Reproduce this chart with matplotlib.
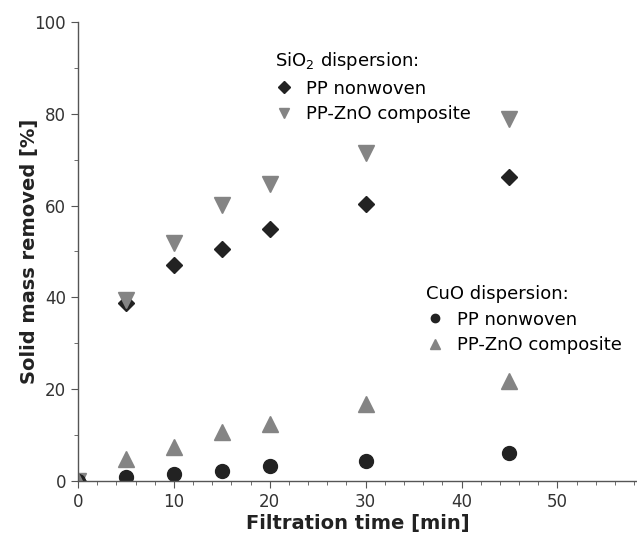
import numpy as np
import matplotlib
matplotlib.use('Agg')
import matplotlib.pyplot as plt
from matplotlib.lines import Line2D
from matplotlib.ticker import MultipleLocator

time = [0, 5, 10, 15, 20, 30, 45]
sio2_pp = [0, 38.8, 47.1, 50.5, 54.9, 60.3, 66.2]
sio2_znO = [0, 39.4, 51.8, 60.1, 64.7, 71.5, 78.9]
cuo_pp = [0, 0.9, 1.5, 2.2, 3.3, 4.4, 6.1]
cuo_zno = [0, 4.8, 7.4, 10.7, 12.4, 16.8, 21.8]

black = '#222222'
gray = '#848484'

plt.rcParams['font.family'] = ['DejaVu Sans']
fig = plt.figure(figsize=(6.37, 5.33), dpi=100)
ax = fig.add_axes([0.1225, 0.0976, 0.8775, 0.8611])

ax.plot(time, sio2_pp, linestyle='none', marker='D', ms=8, color=black)
ax.plot(time, sio2_znO, linestyle='none', marker='v', ms=11, color=gray)
ax.plot(time, cuo_pp, linestyle='none', marker='o', ms=10, color=black)
ax.plot(time, cuo_zno, linestyle='none', marker='^', ms=11, color=gray)

ax.set_xlim(0, 58.3)
ax.set_ylim(0, 100)
ax.xaxis.set_major_locator(MultipleLocator(10))
ax.xaxis.set_minor_locator(MultipleLocator(2))
ax.yaxis.set_major_locator(MultipleLocator(20))
ax.yaxis.set_minor_locator(MultipleLocator(10))
for s in ['top', 'right']:
    ax.spines[s].set_visible(False)
for s in ['left', 'bottom']:
    ax.spines[s].set_color('#555555')
    ax.spines[s].set_linewidth(1.0)
    ax.spines[s].set_zorder(3)
ax.tick_params(which='both', direction='out', color='#555555', labelsize=12, labelcolor='#333333')
ax.tick_params(which='major', length=5)
ax.tick_params(which='minor', length=3)

ax.set_xlabel('Filtration time [min]', fontsize=14, fontweight='bold', color='#222222', labelpad=2)
ax.set_ylabel('Solid mass removed [%]', fontsize=14, fontweight='bold', color='#222222', labelpad=-3)

h1 = [Line2D([], [], linestyle='none', marker='D', ms=6, color=black),
      Line2D([], [], linestyle='none', marker='v', ms=7, color=gray)]
leg1 = fig.legend(h1, ['PP nonwoven', 'PP-ZnO composite'], title='SiO$_2$ dispersion:',
                  loc='upper left', bbox_to_anchor=(266/637, 1-41/533), frameon=False,
                  fontsize=13, title_fontsize=13, alignment='left', borderpad=0,
                  handlelength=1.0, handletextpad=0.7, labelspacing=0.42)
h2 = [Line2D([], [], linestyle='none', marker='o', ms=6, color=black),
      Line2D([], [], linestyle='none', marker='^', ms=7, color=gray)]
leg2 = fig.legend(h2, ['PP nonwoven', 'PP-ZnO composite'], title='CuO dispersion:',
                  loc='upper left', bbox_to_anchor=(417/637, 1-276/533), frameon=False,
                  fontsize=13, title_fontsize=13, alignment='left', borderpad=0,
                  handlelength=1.0, handletextpad=0.7, labelspacing=0.42)

fig.savefig('out.png', dpi=100)
